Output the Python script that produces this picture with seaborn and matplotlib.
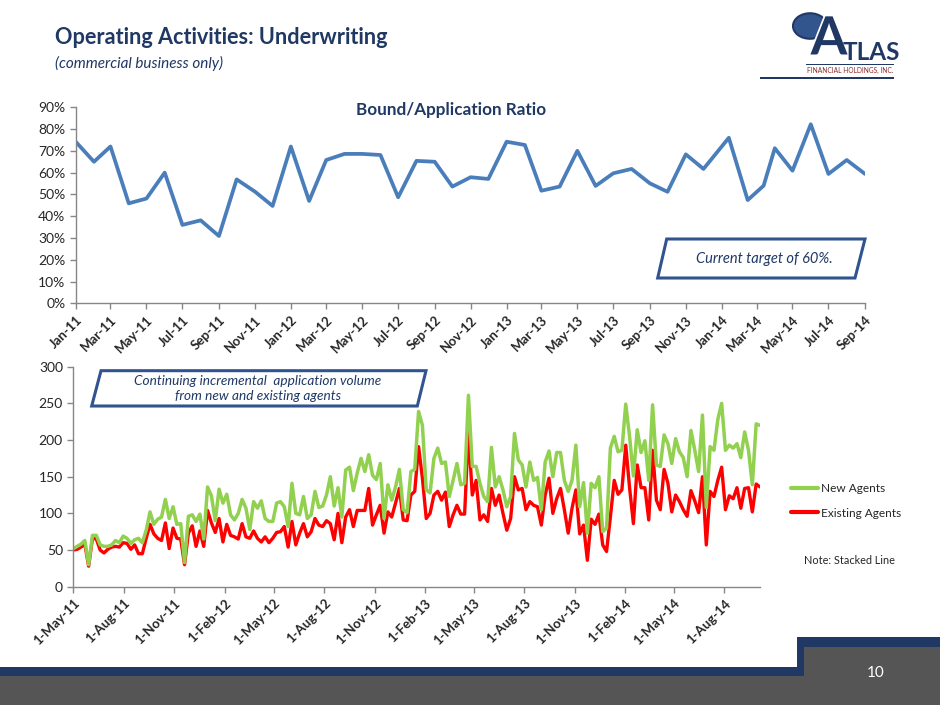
import matplotlib
matplotlib.use('Agg')
import matplotlib.pyplot as plt
import matplotlib.patheffects as pe
from matplotlib.patches import Polygon, Rectangle, Circle
from matplotlib.lines import Line2D
from matplotlib.ticker import MultipleLocator, FuncFormatter
import numpy as np
import pandas as pd
import seaborn as sns

# ---------------- data ----------------
# Bound/Application ratio, one point per month (a few points sit mid-month)
ratio_pct = [74.2, 65.0, 72.0, 45.9, 48.1, 60.0, 36.0, 38.1, 30.9, 56.9, 51.3, 44.7,
             72.0, 47.0, 65.8, 68.6, 68.6, 68.1, 48.7, 65.4, 65.0, 53.6, 57.9, 57.1,
             74.2, 72.7, 51.7, 53.6, 70.0, 53.9, 59.7, 61.7, 55.1, 51.2, 68.4, 61.7,
             76.0, 47.4, 54.0, 71.2, 60.9, 82.2, 59.4, 65.8, 59.4]
ratio_start = '2011-01-01'
ratio_shifted = {'2014-01-01': '2014-01-13', '2014-02-01': '2014-02-14',
                 '2014-03-01': '2014-03-13'}
ratio_ticks = pd.date_range('2011-01-01', '2014-09-01', freq='2MS')

# weekly application counts (stacked line: green = new + existing)
week_start = '2011-05-01'
existing_agents = [50, 51, 54, 58, 28, 66, 65, 50, 46, 51,
                   54, 55, 54, 60, 59, 51, 57, 45, 45, 66,
                   85, 72, 66, 63, 87, 52, 80, 66, 65, 30,
                   73, 83, 55, 76, 55, 104, 87, 74, 93, 61,
                   85, 70, 68, 65, 86, 68, 66, 76, 66, 61,
                   68, 60, 66, 74, 75, 82, 54, 89, 57, 73,
                   86, 68, 75, 93, 84, 82, 90, 86, 64, 100,
                   60, 95, 105, 82, 104, 104, 104, 134, 84, 98,
                   111, 73, 102, 95, 114, 134, 91, 90, 125, 130,
                   191, 148, 93, 100, 125, 130, 118, 129, 82, 98,
                   111, 99, 99, 212, 125, 145, 91, 98, 89, 134,
                   111, 125, 100, 77, 93, 150, 132, 134, 105, 116,
                   111, 109, 84, 125, 148, 100, 120, 134, 105, 73,
                   107, 132, 72, 84, 36, 92, 85, 99, 57, 48,
                   95, 145, 126, 132, 193, 135, 86, 166, 135, 135,
                   91, 186, 118, 105, 160, 141, 102, 125, 116, 105,
                   96, 131, 117, 101, 150, 57, 130, 123, 145, 163,
                   105, 124, 120, 135, 107, 134, 135, 102, 140, 136]
new_agents_stacked = [52, 55, 58, 63, 30, 70, 70, 57, 55, 55,
                      57, 63, 60, 69, 66, 59, 64, 66, 60, 77,
                      102, 85, 92, 95, 119, 93, 109, 85, 86, 33,
                      96, 98, 89, 99, 65, 136, 124, 90, 133, 114,
                      126, 98, 91, 100, 119, 107, 78, 116, 107, 117,
                      93, 89, 89, 114, 116, 109, 82, 141, 100, 98,
                      123, 93, 98, 130, 108, 110, 125, 150, 110, 135,
                      95, 159, 163, 131, 155, 175, 157, 180, 152, 146,
                      168, 93, 139, 118, 136, 160, 105, 101, 157, 160,
                      239, 220, 132, 128, 175, 189, 168, 170, 123, 145,
                      168, 139, 141, 261, 164, 164, 141, 123, 116, 190,
                      136, 150, 132, 109, 123, 209, 173, 166, 136, 170,
                      145, 149, 105, 170, 185, 150, 183, 183, 145, 130,
                      145, 193, 109, 142, 73, 141, 135, 150, 75, 80,
                      189, 205, 184, 186, 249, 205, 151, 214, 183, 199,
                      145, 248, 166, 164, 207, 195, 168, 202, 184, 176,
                      150, 213, 186, 157, 234, 108, 191, 186, 228, 250,
                      186, 193, 189, 195, 176, 211, 186, 139, 222, 220]
week_ticks = pd.date_range('2011-05-01', '2014-08-01', freq='3MS')

# ---------------- setup ----------------
sns.set_style('ticks')
plt.rcParams['font.family'] = ['Lato', 'DejaVu Sans']

NAVY = '#1F3864'
BOX = '#31538F'
AXC = '#868686'
TXT = '#262626'

W, H = 940, 705
fig = plt.figure(figsize=(W / 100, H / 100), dpi=100)
fig.patch.set_facecolor('white')


def fx(x):
    return x / W


def fy(y):
    return 1 - y / H


def style_axis(ax):
    sns.despine(ax=ax)
    for side in ['left', 'bottom']:
        ax.spines[side].set_color(AXC)
        ax.spines[side].set_linewidth(1.0)
    ax.tick_params(axis='both', colors=AXC, length=4, width=1, direction='out',
                   labelcolor=TXT)
    ax.set_xlabel('')
    ax.set_ylabel('')


# ---------------- top chart: bound / application ratio ----------------
ratio_dates = pd.date_range(ratio_start, periods=len(ratio_pct), freq='MS')
ratio_dates = pd.to_datetime([ratio_shifted.get(d.strftime('%Y-%m-%d'), d) for d in ratio_dates])

ax1 = fig.add_axes([fx(75.7), fy(303.3), fx(865 - 75.7), (303.3 - 107.3) / H])
sns.lineplot(x=ratio_dates, y=ratio_pct, ax=ax1, color='#4A7EBB', linewidth=2.7)
ax1.set_xlim(ratio_dates[0], ratio_dates[-1])
ax1.set_ylim(0, 90)
ax1.yaxis.set_major_locator(MultipleLocator(10))
ax1.yaxis.set_major_formatter(FuncFormatter(lambda v, p: f'{v:.0f}%'))
ax1.set_xticks(ratio_ticks)
ax1.set_xticklabels([d.strftime('%b-%y') for d in ratio_ticks], rotation=45, ha='right',
                    rotation_mode='anchor', fontsize=9.5, fontweight='bold')
ax1.tick_params(axis='y', labelsize=10)
style_axis(ax1)
fig.text(fx(451), fy(110), 'Bound/Application Ratio', ha='center', va='center',
         fontsize=12.3, fontweight='bold', color=NAVY)

# ---------------- bottom chart: weekly applications ----------------
weeks = pd.date_range(week_start, periods=len(existing_agents), freq='7D')

ax2 = fig.add_axes([fx(73.3), fy(586.7), fx(760 - 73.3), (586.7 - 366.7) / H])
sns.lineplot(x=weeks, y=existing_agents, ax=ax2, color='#FF0000', linewidth=2.4)
sns.lineplot(x=weeks, y=new_agents_stacked, ax=ax2, color='#92D050', linewidth=2.5)
ax2.set_xlim(weeks[0], weeks[-1])
ax2.set_ylim(0, 300)
ax2.yaxis.set_major_locator(MultipleLocator(50))
ax2.set_xticks(week_ticks)
ax2.set_xticklabels([f'{d.day}-{d.strftime("%b-%y")}' for d in week_ticks], rotation=45,
                    ha='right', rotation_mode='anchor', fontsize=9.5, fontweight='bold')
ax2.tick_params(axis='y', labelsize=10)
style_axis(ax2)

handles = [Line2D([], [], color='#92D050', linewidth=3),
           Line2D([], [], color='#FF0000', linewidth=3)]
fig.legend(handles, ['New Agents', 'Existing Agents'], loc='center left',
           bbox_to_anchor=(fx(780), fy(501)), frameon=False, fontsize=8.6,
           handlelength=2.3, handletextpad=0.2, labelspacing=1.1)
fig.text(fx(804), fy(560), 'Note: Stacked Line', fontsize=7.8, color=TXT, va='center')

# ---------------- callout boxes ----------------
box_top = [(666.7, 239), (865, 239), (855, 278), (657.7, 278)]
box_bottom = [(101, 370.7), (426, 370.7), (417.3, 406), (91.7, 406)]
for pts in (box_top, box_bottom):
    fig.patches.append(Polygon([(fx(x), fy(y)) for x, y in pts], closed=True,
                               transform=fig.transFigure, facecolor='white',
                               edgecolor=BOX, linewidth=2.2, zorder=5))
fig.text(fx(764), fy(259), 'Current target of 60%.', ha='center', va='center',
         fontsize=10.5, style='italic', color=NAVY, zorder=6)
fig.text(fx(258), fy(388.5), 'Continuing incremental  application volume\nfrom new and existing agents',
         ha='center', va='center', fontsize=9.8, style='italic', color=NAVY,
         linespacing=1.25, zorder=6)

# ---------------- slide header ----------------
fig.text(fx(55), fy(38), 'Operating Activities: Underwriting', fontsize=15.6,
         fontweight='bold', color=NAVY, va='center')
fig.text(fx(55), fy(63), '(commercial business only)', fontsize=11,
         style='italic', color=NAVY, va='center')

# logo
fig.patches.append(Circle((fx(810), fy(26)), 17 / W, transform=fig.transFigure,
                          facecolor='#33558E', edgecolor=NAVY, linewidth=1.5))
fig.text(fx(829), fy(39), 'A', ha='center', va='center', fontsize=38,
         fontweight='bold', color=NAVY,
         path_effects=[pe.withStroke(linewidth=2.5, foreground='white')])
fig.text(fx(843), fy(52), 'TLAS', ha='left', va='center', fontsize=17.5,
         fontweight='bold', color=NAVY)
fig.patches.append(Rectangle((fx(806), fy(65)), fx(88), 1.2 / H,
                             transform=fig.transFigure, facecolor=NAVY, edgecolor='none'))
fig.text(fx(850), fy(70), 'FINANCIAL HOLDINGS, INC.', ha='center', va='center',
         fontsize=4.8, color='#8B2A2A')
fig.patches.append(Rectangle((fx(760), fy(79)), fx(134), 2.2 / H,
                             transform=fig.transFigure, facecolor=NAVY, edgecolor='none'))

# ---------------- footer ----------------
fig.patches.append(Rectangle((0, 0), 1, 1 - 666.7 / H, transform=fig.transFigure,
                             facecolor=NAVY, edgecolor='none'))
fig.patches.append(Rectangle((fx(796.7), 0), 1 - fx(796.7), 1 - 636.7 / H,
                             transform=fig.transFigure, facecolor=NAVY, edgecolor='none'))
fig.patches.append(Rectangle((0, 0), 1, 1 - 676 / H, transform=fig.transFigure,
                             facecolor='#555555', edgecolor='none'))
fig.patches.append(Rectangle((fx(803.7), 0), 1 - fx(803.7), 1 - 646.7 / H,
                             transform=fig.transFigure, facecolor='#555555', edgecolor='none'))
fig.text(fx(876), fy(673), '10', ha='center', va='center', fontsize=11, color='white')

fig.savefig('out.png', dpi=100, facecolor='white')
